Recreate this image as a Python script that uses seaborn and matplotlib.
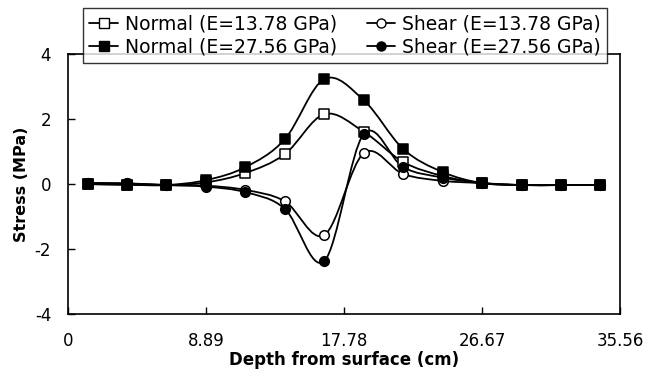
import numpy as np
import matplotlib
matplotlib.use("Agg")
import matplotlib.pyplot as plt
from matplotlib.path import Path
from matplotlib.patches import PathPatch
from matplotlib.lines import Line2D
import seaborn as sns

# depth positions (cm) and stress values (MPa)
depth = [1.27, 3.81, 6.35, 8.89, 11.43, 13.97, 16.51, 19.05, 21.59, 24.13, 26.67, 29.21, 31.75, 34.29]
normal_13 = [0.0, -0.02, -0.03, 0.05, 0.34, 0.92, 2.15, 1.61, 0.68, 0.25, 0.03, -0.03, -0.03, -0.03]
normal_27 = [0.0, -0.02, -0.03, 0.12, 0.52, 1.38, 3.23, 2.58, 1.08, 0.37, 0.03, -0.03, -0.03, -0.03]
shear_13 = [0.03, 0.02, -0.03, -0.05, -0.18, -0.53, -1.57, 0.95, 0.31, 0.10, 0.03, -0.03, -0.03, -0.03]
shear_27 = [0.03, 0.02, -0.03, -0.08, -0.25, -0.76, -2.37, 1.54, 0.52, 0.20, 0.03, -0.03, -0.03, -0.03]

labels = ["Normal (E=13.78 GPa)", "Normal (E=27.56 GPa)",
          "Shear (E=13.78 GPa)", "Shear (E=27.56 GPa)"]
x_ticks = [0, 8.89, 17.78, 26.67, 35.56]
x_ticklabels = ["0", "8.89", "17.78", "26.67", "35.56"]
y_ticks = [-4, -2, 0, 2, 4]


def smooth_path(xs, ys):
    """Catmull-Rom style bezier through the points (like a smoothed line chart)"""
    pts = np.column_stack([xs, ys])
    verts = [pts[0]]
    codes = [Path.MOVETO]
    n = len(pts)
    for i in range(n - 1):
        p0 = pts[max(i - 1, 0)]
        p1 = pts[i]
        p2 = pts[i + 1]
        p3 = pts[min(i + 2, n - 1)]
        c1 = p1 + (p2 - p0) / 6.0
        c2 = p2 - (p3 - p1) / 6.0
        verts += [c1, c2, p2]
        codes += [Path.CURVE4] * 3
    return Path(verts, codes)


sns.set_style("ticks")
plt.rcParams['font.family'] = ['DejaVu Sans']
plt.rcParams['axes.unicode_minus'] = False
plt.rcParams['text.color'] = 'black'
plt.rcParams['axes.labelcolor'] = 'black'

fig = plt.figure(figsize=(6.46, 3.70), dpi=100)
ax = fig.add_axes([0.105, 0.151, 0.855, 0.703])

series = [
    (normal_13, "s", "white"),
    (normal_27, "s", "black"),
    (shear_13, "o", "white"),
    (shear_27, "o", "black"),
]

for ys, mk, fc in series:
    ax.add_patch(PathPatch(smooth_path(depth, ys), facecolor="none",
                           edgecolor="black", linewidth=1.3, zorder=2))
    sns.scatterplot(x=depth, y=ys, marker=mk, color=fc, edgecolor="black",
                    linewidth=1.1, s=48, zorder=3, ax=ax)

ax.set_xlim(0, 35.56)
ax.set_ylim(-4, 4)
ax.set_xticks(x_ticks)
ax.set_xticklabels(x_ticklabels)
ax.set_yticks(y_ticks)
ax.tick_params(direction="in", length=5, width=1, labelsize=12, colors="black")
ax.tick_params(axis="x", pad=13)
ax.tick_params(axis="y", pad=12)
for sp in ax.spines.values():
    sp.set_visible(True)
    sp.set_linewidth(1.2)
    sp.set_color("black")

ax.set_xlabel("Depth from surface (cm)", fontsize=12, fontweight="bold", labelpad=0.5)
ax.set_ylabel("Stress (MPa)", fontsize=11.5, fontweight="bold", labelpad=4)

handles = [
    Line2D([], [], color="black", lw=1.3, marker="s", markerfacecolor="white", markersize=6.5),
    Line2D([], [], color="black", lw=1.3, marker="s", markerfacecolor="black", markersize=6.5),
    Line2D([], [], color="black", lw=1.3, marker="o", markerfacecolor="white", markersize=6.5),
    Line2D([], [], color="black", lw=1.3, marker="o", markerfacecolor="black", markersize=6.5),
]
leg = fig.legend(handles, labels, ncol=2, loc="center", bbox_to_anchor=(0.534, 0.904),
                 fontsize=13.5, frameon=True, fancybox=False, edgecolor="black",
                 handlelength=1.5, handletextpad=0.37, columnspacing=1.6,
                 labelspacing=0.25, borderpad=0.35, borderaxespad=0)
leg.get_frame().set_linewidth(1.0)
leg.set_zorder(10)

fig.savefig("out.png", dpi=100)
